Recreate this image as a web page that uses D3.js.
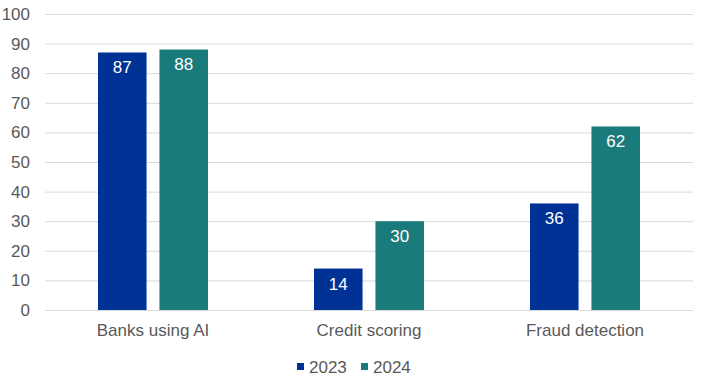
<!DOCTYPE html>
<html>
<head>
<meta charset="utf-8">
<script src="https://cdn.jsdelivr.net/npm/d3@7"></script>
<style>
  body { margin: 0; background: #fff; }
  svg text { font-family: "Liberation Sans", Arial, sans-serif; }
</style>
</head>
<body>
<div id="chart"></div>
<script>
const categories = ['Banks using AI', 'Credit scoring', 'Fraud detection'];
const seriesNames = ['2023', '2024'];
const values2023 = [87, 14, 36];
const values2024 = [88, 30, 62];
const yTicks = [0, 10, 20, 30, 40, 50, 60, 70, 80, 90, 100];
const colors = ['#003296', '#1a7b7b'];

const W = 718, H = 384;
const margin = { left: 45, right: 25, top: 14, bottom: 74 };

const svg = d3.select('#chart').append('svg')
  .attr('width', W).attr('height', H);

const x0 = d3.scaleBand()
  .domain(categories)
  .range([margin.left, W - margin.right])
  .paddingInner(0).paddingOuter(0);

// inner band for the two series: ~48px bars with a ~13px gap
const x1 = d3.scaleBand()
  .domain(seriesNames)
  .range([x0.bandwidth() / 2 - 55, x0.bandwidth() / 2 + 55])
  .paddingInner(0.21);

const y = d3.scaleLinear()
  .domain([0, 100])
  .range([H - margin.bottom, margin.top]);

// gridlines
svg.append('g')
  .selectAll('line')
  .data(yTicks)
  .enter().append('line')
  .attr('x1', margin.left).attr('x2', W - margin.right)
  .attr('y1', d => y(d) + 0.5).attr('y2', d => y(d) + 0.5)
  .attr('stroke', '#d9d9d9').attr('stroke-width', 1);

// y tick labels
svg.append('g')
  .selectAll('text')
  .data(yTicks)
  .enter().append('text')
  .attr('x', 30).attr('y', d => y(d))
  .attr('dy', '0.35em')
  .attr('text-anchor', 'end')
  .attr('fill', '#595959')
  .style('font-size', '17px')
  .text(d => d);

const rows = categories.map((c, i) => ({
  cat: c,
  vals: [values2023[i], values2024[i]]
}));

const groups = svg.append('g')
  .selectAll('g')
  .data(rows)
  .enter().append('g')
  .attr('transform', d => `translate(${x0(d.cat)},0)`);

const bars = groups.selectAll('g')
  .data(d => d.vals.map((v, i) => ({ name: seriesNames[i], v, i })))
  .enter().append('g');

bars.append('rect')
  .attr('x', d => x1(d.name))
  .attr('width', x1.bandwidth())
  .attr('y', d => y(d.v))
  .attr('height', d => y(0) - y(d.v))
  .attr('fill', d => colors[d.i]);

bars.append('text')
  .attr('x', d => x1(d.name) + x1.bandwidth() / 2)
  .attr('y', d => y(d.v) + 15)
  .attr('dy', '0.35em')
  .attr('text-anchor', 'middle')
  .attr('fill', '#fff')
  .style('font-size', '17px')
  .text(d => d.v);

// category labels
svg.append('g')
  .selectAll('text')
  .data(categories)
  .enter().append('text')
  .attr('x', d => x0(d) + x0.bandwidth() / 2)
  .attr('y', y(0) + 20)
  .attr('dy', '0.35em')
  .attr('text-anchor', 'middle')
  .attr('fill', '#595959')
  .style('font-size', '17px')
  .text(d => d);

// legend
const legend = svg.append('g').attr('transform', 'translate(297,367)');
const items = legend.selectAll('g')
  .data(seriesNames)
  .enter().append('g')
  .attr('transform', (d, i) => `translate(${i * 64},0)`);
items.append('rect')
  .attr('x', 0).attr('y', -4)
  .attr('width', 7).attr('height', 7)
  .attr('fill', (d, i) => colors[i]);
items.append('text')
  .attr('x', 12).attr('y', 0)
  .attr('dy', '0.35em')
  .attr('fill', '#595959')
  .style('font-size', '17px')
  .text(d => d);
</script>
</body>
</html>
